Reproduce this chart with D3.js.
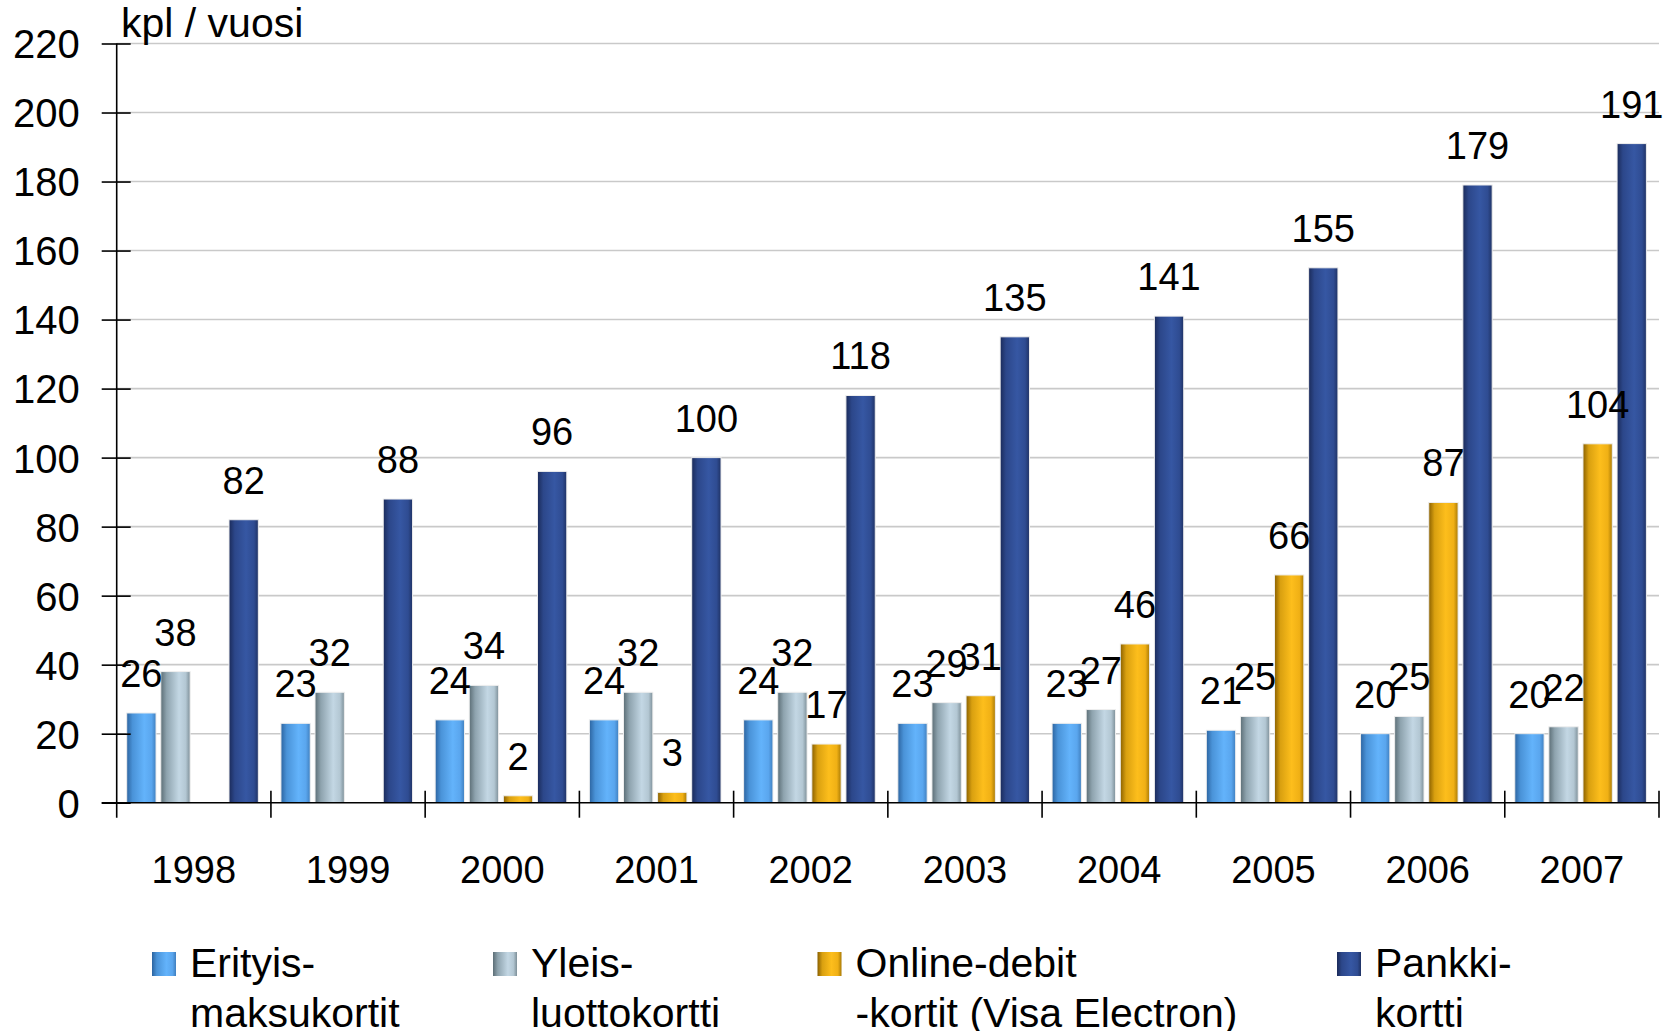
<!DOCTYPE html>
<html>
<head>
<meta charset="utf-8">
<script src="https://cdn.jsdelivr.net/npm/d3@7"></script>
<style>
  html, body { margin: 0; padding: 0; background: #ffffff; }
  svg { display: block; font-family: "Liberation Sans", Arial, sans-serif; }
</style>
</head>
<body>
<svg id="chart" width="1669" height="1031"></svg>
<script>
// ---- Data ----
const years = ["1998", "1999", "2000", "2001", "2002", "2003", "2004", "2005", "2006", "2007"];
const seriesKeys = ["erityis", "yleis", "online", "pankki"];
const erityisValues = [26, 23, 24, 24, 24, 23, 23, 21, 20, 20];
const yleisValues   = [38, 32, 34, 32, 32, 29, 27, 25, 25, 22];
const onlineValues  = [null, null, 2, 3, 17, 31, 46, 66, 87, 104];
const pankkiValues  = [82, 88, 96, 100, 118, 135, 141, 155, 179, 191];
const yTicks = [0, 20, 40, 60, 80, 100, 120, 140, 160, 180, 200, 220];
const legendLines = [
  ["Erityis-", "maksukortit"],
  ["Yleis-", "luottokortti"],
  ["Online-debit", "-kortit (Visa Electron)"],
  ["Pankki-", "kortti"]
];
const unitLabel = "kpl / vuosi";

const valuesByKey = { erityis: erityisValues, yleis: yleisValues, online: onlineValues, pankki: pankkiValues };

// gradient colour stops per series (left edge -> right edge)
const gradStops = {
  erityis: [["0%", "#2c64a0"], ["20%", "#4a93d8"], ["60%", "#63b3fb"], ["85%", "#5aa6ee"], ["100%", "#3f7fbf"]],
  yleis:   [["0%", "#5c6e76"], ["20%", "#8ea3ae"], ["62%", "#c3d7e4"], ["85%", "#b3c7d3"], ["100%", "#7d8f98"]],
  online:  [["0%", "#8a6000"], ["20%", "#d9a010"], ["58%", "#fdbe1c"], ["85%", "#f0b015"], ["100%", "#a97a05"]],
  pankki:  [["0%", "#1b2b5a"], ["20%", "#2c478a"], ["58%", "#3657a3"], ["85%", "#2f4c92"], ["100%", "#1f3264"]]
};

// ---- Layout ----
const svg = d3.select("#chart");
const plotLeft = 116.7, plotRight = 1659, plotTop = 43.5, plotBottom = 802.7;

const x = d3.scaleBand().domain(years).range([plotLeft, plotRight]).padding(0);
const xInner = d3.scaleBand().domain(seriesKeys).range([10, x.bandwidth() - 12.6]).paddingInner(0.14).paddingOuter(0);
const y = d3.scaleLinear().domain([0, 220]).range([plotBottom, plotTop]);

// gradients
const defs = svg.append("defs");
seriesKeys.forEach(k => {
  const g = defs.append("linearGradient").attr("id", "g-" + k)
    .attr("x1", "0%").attr("x2", "100%").attr("y1", "0%").attr("y2", "0%");
  gradStops[k].forEach(s => g.append("stop").attr("offset", s[0]).attr("stop-color", s[1]));
});

// gridlines
svg.append("g").selectAll("line").data(yTicks.filter(t => t > 0)).join("line")
  .attr("x1", plotLeft).attr("x2", plotRight)
  .attr("y1", d => y(d)).attr("y2", d => y(d))
  .attr("stroke", "#c9c9c9").attr("stroke-width", 1.6);

// bars
const barData = [];
years.forEach((yr, i) => {
  seriesKeys.forEach(k => {
    const v = valuesByKey[k][i];
    if (v !== null && v !== undefined) barData.push({ year: yr, key: k, value: v });
  });
});

svg.append("g").selectAll("rect").data(barData).join("rect")
  .attr("x", d => x(d.year) + xInner(d.key))
  .attr("width", xInner.bandwidth())
  .attr("y", d => y(d.value))
  .attr("height", d => y(0) - y(d.value))
  .attr("fill", d => "url(#g-" + d.key + ")")
  .attr("stroke", "#eeeeee").attr("stroke-width", 1);

// value labels
svg.append("g").selectAll("text").data(barData).join("text")
  .attr("x", d => x(d.year) + xInner(d.key) + xInner.bandwidth() / 2)
  .attr("y", d => y(d.value) - 26)
  .attr("text-anchor", "middle")
  .attr("font-size", 38)
  .attr("fill", "#000")
  .text(d => d.value);

// y axis
const yAxis = d3.axisLeft(y).tickValues(yTicks).tickSize(0).tickPadding(0);
const yg = svg.append("g").attr("transform", `translate(${plotLeft},0)`).call(yAxis);
yg.select(".domain").remove();
yg.selectAll(".tick text")
  .attr("x", -37)
  .attr("dy", "0.36em")
  .attr("font-size", 40)
  .attr("font-family", "Liberation Sans, Arial, sans-serif")
  .attr("fill", "#000");
yg.selectAll(".tick").append("line")
  .attr("x1", -15).attr("x2", 14).attr("y1", 0).attr("y2", 0)
  .attr("stroke", "#000").attr("stroke-width", 1.6);
svg.append("line").attr("x1", plotLeft).attr("x2", plotLeft).attr("y1", plotTop).attr("y2", plotBottom + 15)
  .attr("stroke", "#000").attr("stroke-width", 1.6);

// x axis
svg.append("line").attr("x1", plotLeft - 15).attr("x2", plotRight).attr("y1", plotBottom).attr("y2", plotBottom)
  .attr("stroke", "#000").attr("stroke-width", 1.6);
const xAxis = d3.axisBottom(x).tickSize(0).tickPadding(0);
const xg = svg.append("g").attr("transform", `translate(0,${plotBottom})`).call(xAxis);
xg.select(".domain").remove();
xg.selectAll(".tick text")
  .attr("y", 80).attr("dy", 0)
  .attr("font-size", 38)
  .attr("font-family", "Liberation Sans, Arial, sans-serif")
  .attr("fill", "#000");
// category boundary ticks
const boundaries = years.map(yr => x(yr)).slice(1).concat([plotRight]);
svg.append("g").selectAll("line").data(boundaries).join("line")
  .attr("x1", d => d).attr("x2", d => d)
  .attr("y1", plotBottom - 12).attr("y2", plotBottom + 15)
  .attr("stroke", "#000").attr("stroke-width", 1.6);

// unit label
svg.append("text").attr("x", 121).attr("y", 37)
  .attr("font-size", 41).attr("fill", "#000").text(unitLabel);

// legend
const legendX = [152, 493, 817.5, 1337];
const lg = svg.append("g").selectAll("g").data(seriesKeys).join("g")
  .attr("transform", (d, i) => `translate(${legendX[i]},0)`);
lg.append("rect").attr("x", 0).attr("y", 952).attr("width", 24).attr("height", 24)
  .attr("fill", d => "url(#g-" + d + ")");
lg.each(function(d, i) {
  const t = d3.select(this).append("text").attr("font-size", 41).attr("fill", "#000");
  legendLines[i].forEach((line, j) => {
    t.append("tspan").attr("x", 38).attr("y", 977 + j * 50).text(line);
  });
});
</script>
</body>
</html>
